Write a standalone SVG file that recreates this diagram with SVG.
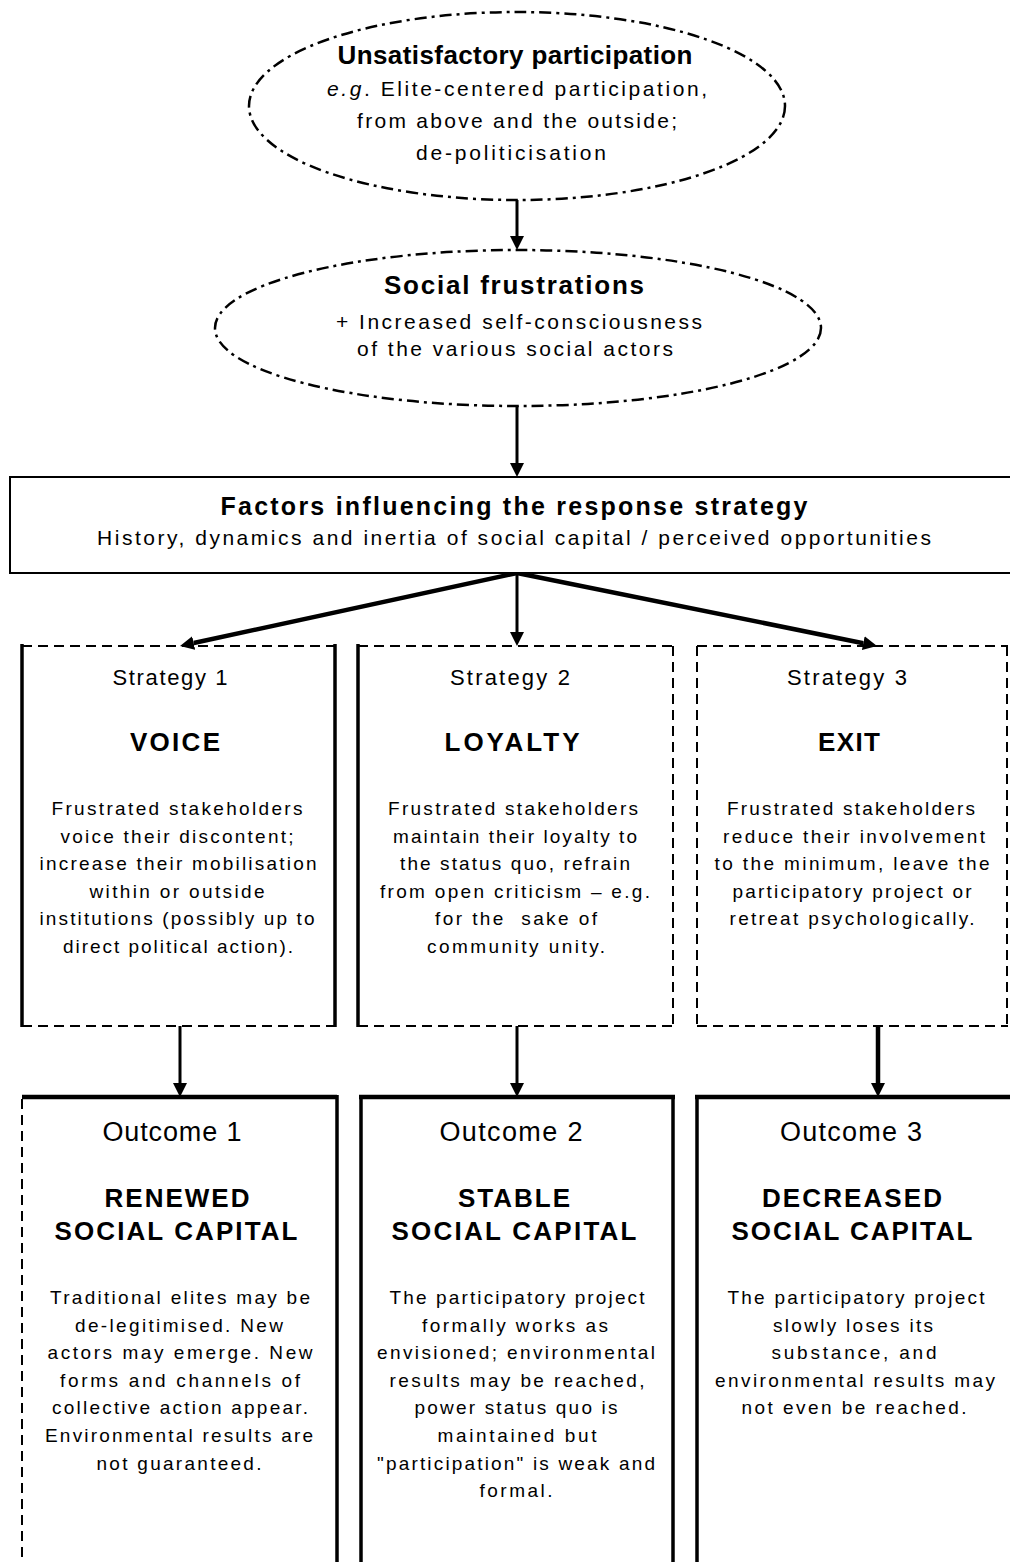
<svg xmlns="http://www.w3.org/2000/svg" width="1010" height="1562" viewBox="0 0 1010 1562">
<style>
text{font-family:"Liberation Sans",Arial,sans-serif;fill:#000;text-anchor:middle}
.b{font-weight:bold}
.body{font-size:19px}
.lab{font-size:22px}
.olab{font-size:27px}
.ttl{font-size:26px;font-weight:bold}
.sub{font-size:21px}
.solid{stroke:#000;stroke-width:3.5;fill:none}
.top{stroke:#000;stroke-width:4.5;fill:none}
.dash{stroke:#000;stroke-width:2;stroke-dasharray:10 6;fill:none}
.ell{stroke:#000;stroke-width:2.5;stroke-dasharray:12 5 3 5;fill:#fff}
.c{stroke:#000;fill:none}
</style>
<defs>
<marker id="ah" viewBox="0 0 14 14" refX="0" refY="7" markerWidth="14" markerHeight="14" markerUnits="userSpaceOnUse" orient="auto">
<path d="M0,0 L14,7 L0,14 z" fill="#000"/>
</marker>
</defs>
<rect width="1010" height="1562" fill="#fff"/>

<g id="connectors">
<line class="c" x1="517" y1="200" x2="517" y2="236" stroke-width="3" marker-end="url(#ah)"/>
<line class="c" x1="517" y1="406" x2="517" y2="463" stroke-width="3" marker-end="url(#ah)"/>
<line class="c" x1="517" y1="573" x2="193.7" y2="643" stroke-width="4.5" marker-end="url(#ah)"/>
<line class="c" x1="517" y1="573" x2="517" y2="632" stroke-width="3" marker-end="url(#ah)"/>
<line class="c" x1="517" y1="573" x2="863.3" y2="643.2" stroke-width="4.5" marker-end="url(#ah)"/>
<line class="c" x1="180" y1="1026" x2="180" y2="1083" stroke-width="3" marker-end="url(#ah)"/>
<line class="c" x1="517" y1="1026" x2="517" y2="1083" stroke-width="3" marker-end="url(#ah)"/>
<line class="c" x1="878" y1="1026" x2="878" y2="1083" stroke-width="4.5" marker-end="url(#ah)"/>
</g>

<g id="n_unsatisfactory">
<ellipse class="ell" cx="517" cy="106" rx="268" ry="94"/>
<text x="515" y="64" class="b" font-size="26" textLength="355">Unsatisfactory participation</text>
<text x="517" y="96" class="sub" textLength="380"><tspan font-style="italic">e.g</tspan>. Elite-centered participation,</text>
<text x="517" y="128" class="sub" textLength="320">from above and the outside;</text>
<text x="511" y="160" class="sub" textLength="190">de-politicisation</text>
</g>

<g id="n_frustrations">
<ellipse class="ell" cx="518" cy="328" rx="303" ry="78"/>
<text x="514" y="294" class="b" font-size="26" textLength="260">Social frustrations</text>
<text x="519" y="329" class="sub" textLength="366">+ Increased self-consciousness</text>
<text x="515" y="356" class="sub" textLength="316">of the various social actors</text>
</g>

<g id="n_factors">
<rect x="10" y="477" width="1012" height="96" fill="#fff" stroke="#000" stroke-width="2"/>
<text x="514" y="515" class="b" font-size="25" textLength="587">Factors influencing the response strategy</text>
<text x="514" y="545" class="sub" textLength="834">History, dynamics and inertia of social capital / perceived opportunities</text>
</g>

<g id="n_strategy1">
<line class="dash" x1="22" y1="646" x2="335" y2="646"/>
<line class="dash" x1="22" y1="1026" x2="335" y2="1026"/>
<line class="solid" x1="22" y1="644" x2="22" y2="1027"/>
<line class="solid" x1="335" y1="644" x2="335" y2="1027"/>
<text x="170" y="685" class="lab" textLength="115">Strategy 1</text>
<text x="175" y="751" class="ttl" textLength="90">VOICE</text>
<text x="177" y="815" class="body" textLength="251">Frustrated stakeholders</text>
<text x="177" y="843" class="body" textLength="233">voice their discontent;</text>
<text x="178" y="870" class="body" textLength="277">increase their mobilisation</text>
<text x="177" y="898" class="body" textLength="175">within or outside</text>
<text x="177" y="925" class="body" textLength="275">institutions (possibly up to</text>
<text x="178" y="953" class="body" textLength="230">direct political action).</text>
</g>

<g id="n_strategy2">
<line class="dash" x1="358" y1="646" x2="673" y2="646"/>
<line class="dash" x1="358" y1="1026" x2="673" y2="1026"/>
<line class="solid" x1="358" y1="644" x2="358" y2="1027"/>
<line class="dash" x1="673" y1="646" x2="673" y2="1026"/>
<text x="510" y="685" class="lab" textLength="120">Strategy 2</text>
<text x="512" y="751" class="ttl" textLength="135">LOYALTY</text>
<text x="513" y="815" class="body" textLength="250">Frustrated stakeholders</text>
<text x="515" y="843" class="body" textLength="244">maintain their loyalty to</text>
<text x="515" y="870" class="body" textLength="230">the status quo, refrain</text>
<text x="515" y="898" class="body" textLength="270">from open criticism – e.g.</text>
<text x="516" y="925" class="body" textLength="162" xml:space="preserve">for the  sake of</text>
<text x="516" y="953" class="body" textLength="178">community unity.</text>
</g>

<g id="n_strategy3">
<line class="dash" x1="697" y1="646" x2="1008" y2="646"/>
<line class="dash" x1="697" y1="1026" x2="1008" y2="1026"/>
<line class="dash" x1="697" y1="646" x2="697" y2="1026"/>
<line class="dash" x1="1007" y1="646" x2="1007" y2="1026"/>
<text x="847" y="685" class="lab" textLength="120">Strategy 3</text>
<text x="849" y="751" class="ttl" textLength="62">EXIT</text>
<text x="851" y="815" class="body" textLength="248">Frustrated stakeholders</text>
<text x="854" y="843" class="body" textLength="262">reduce their involvement</text>
<text x="852" y="870" class="body" textLength="275">to the minimum, leave the</text>
<text x="852" y="898" class="body" textLength="239">participatory project or</text>
<text x="852" y="925" class="body" textLength="245">retreat psychologically.</text>
</g>

<g id="n_outcome1">
<line class="top" x1="22" y1="1097" x2="337" y2="1097"/>
<line class="dash" x1="22" y1="1099" x2="22" y2="1562"/>
<line class="solid" x1="337" y1="1095" x2="337" y2="1562"/>
<text x="172" y="1141" class="olab" textLength="139">Outcome 1</text>
<text x="177" y="1207" class="ttl" textLength="145">RENEWED</text>
<text x="176" y="1240" class="ttl" textLength="243">SOCIAL CAPITAL</text>
<text x="180" y="1304" class="body" textLength="260">Traditional elites may be</text>
<text x="179" y="1332" class="body" textLength="208">de-legitimised. New</text>
<text x="180" y="1359" class="body" textLength="265">actors may emerge. New</text>
<text x="180" y="1387" class="body" textLength="240">forms and channels of</text>
<text x="180" y="1414" class="body" textLength="256">collective action appear.</text>
<text x="179" y="1442" class="body" textLength="268">Environmental results are</text>
<text x="179" y="1470" class="body" textLength="165">not guaranteed.</text>
</g>

<g id="n_outcome2">
<line class="top" x1="359" y1="1097" x2="675" y2="1097"/>
<line class="solid" x1="361" y1="1095" x2="361" y2="1562"/>
<line class="solid" x1="673" y1="1095" x2="673" y2="1562"/>
<text x="511" y="1141" class="olab" textLength="143">Outcome 2</text>
<text x="514" y="1207" class="ttl" textLength="112">STABLE</text>
<text x="514" y="1240" class="ttl" textLength="245">SOCIAL CAPITAL</text>
<text x="517" y="1304" class="body" textLength="255">The participatory project</text>
<text x="515" y="1332" class="body" textLength="186">formally works as</text>
<text x="516" y="1359" class="body" textLength="278">envisioned; environmental</text>
<text x="517" y="1387" class="body" textLength="255">results may be reached,</text>
<text x="516" y="1414" class="body" textLength="203">power status quo is</text>
<text x="517" y="1442" class="body" textLength="159">maintained but</text>
<text x="516" y="1470" class="body" textLength="278">"participation" is weak and</text>
<text x="516" y="1497" class="body" textLength="73">formal.</text>
</g>

<g id="n_outcome3">
<line class="top" x1="695" y1="1097" x2="1012" y2="1097"/>
<line class="solid" x1="697" y1="1095" x2="697" y2="1562"/>
<text x="851" y="1141" class="olab" textLength="142">Outcome 3</text>
<text x="852" y="1207" class="ttl" textLength="180">DECREASED</text>
<text x="852" y="1240" class="ttl" textLength="241">SOCIAL CAPITAL</text>
<text x="856" y="1304" class="body" textLength="257">The participatory project</text>
<text x="853" y="1332" class="body" textLength="160">slowly loses its</text>
<text x="854" y="1359" class="body" textLength="165">substance, and</text>
<text x="855" y="1387" class="body" textLength="280">environmental results may</text>
<text x="854" y="1414" class="body" textLength="225">not even be reached.</text>
</g>
</svg>
